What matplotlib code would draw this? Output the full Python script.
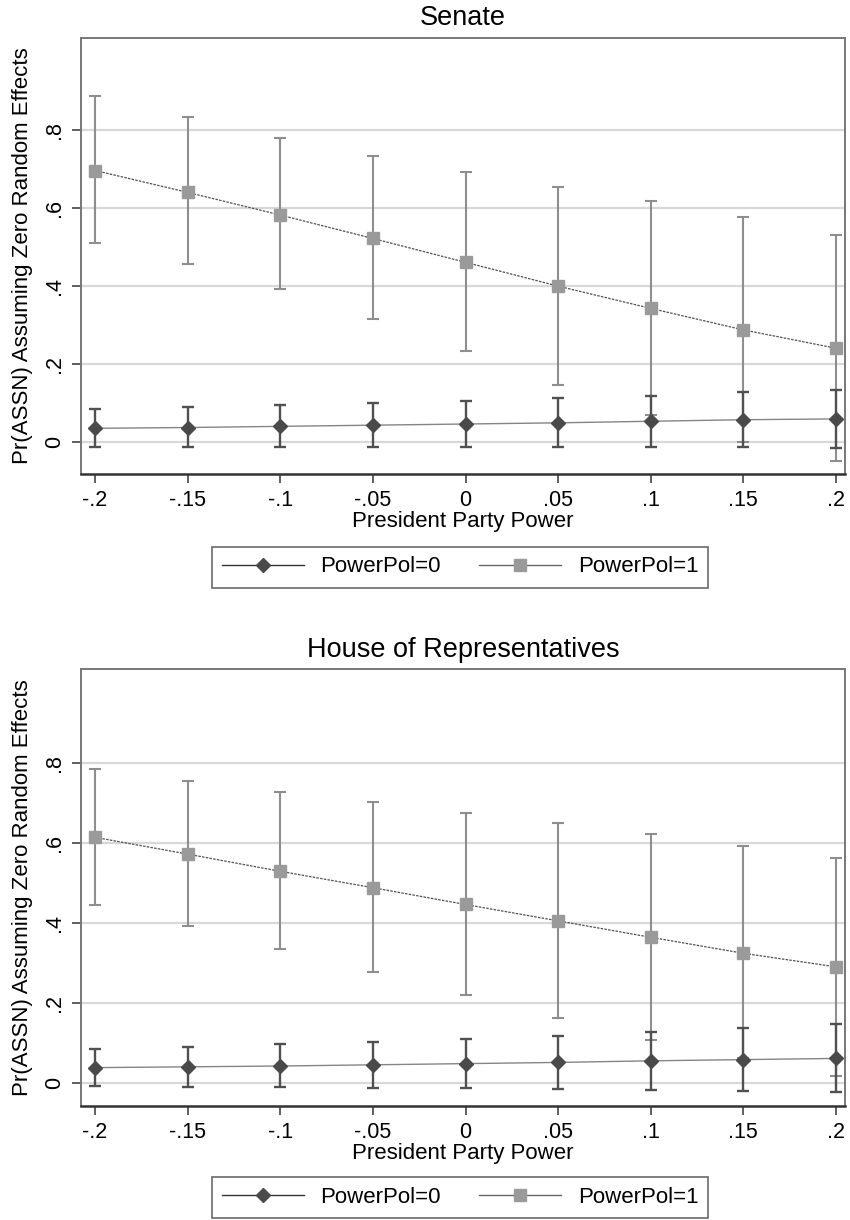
import matplotlib
matplotlib.use('Agg')
import matplotlib.pyplot as plt
from matplotlib.lines import Line2D
from matplotlib import font_manager as fm
import numpy as np

# ---------------- data ----------------
x_vals = [-0.2, -0.15, -0.1, -0.05, 0.0, 0.05, 0.1, 0.15, 0.2]
x_ticklabels = ['-.2', '-.15', '-.1', '-.05', '0', '.05', '.1', '.15', '.2']
y_ticks = [0, 0.2, 0.4, 0.6, 0.8]
y_ticklabels = ['0', '.2', '.4', '.6', '.8']

senate_p0 = [0.036, 0.038, 0.041, 0.044, 0.047, 0.050, 0.054, 0.058, 0.060]
senate_p0_lo = [-0.013, -0.013, -0.013, -0.013, -0.013, -0.013, -0.013, -0.013, -0.014]
senate_p0_hi = [0.086, 0.091, 0.096, 0.102, 0.107, 0.113, 0.119, 0.128, 0.134]
senate_p1 = [0.696, 0.640, 0.582, 0.522, 0.461, 0.400, 0.343, 0.288, 0.241]
senate_p1_lo = [0.510, 0.456, 0.393, 0.317, 0.233, 0.147, 0.070, 0.001, -0.047]
senate_p1_hi = [0.887, 0.832, 0.779, 0.732, 0.692, 0.655, 0.617, 0.576, 0.532]

house_p0 = [0.038, 0.040, 0.042, 0.045, 0.048, 0.051, 0.055, 0.058, 0.061]
house_p0_lo = [-0.009, -0.010, -0.011, -0.012, -0.014, -0.016, -0.018, -0.020, -0.023]
house_p0_hi = [0.084, 0.089, 0.096, 0.102, 0.109, 0.117, 0.127, 0.136, 0.147]
house_p1 = [0.614, 0.572, 0.529, 0.488, 0.446, 0.405, 0.364, 0.324, 0.290]
house_p1_lo = [0.444, 0.392, 0.335, 0.278, 0.219, 0.161, 0.108, 0.062, 0.018]
house_p1_hi = [0.785, 0.756, 0.728, 0.702, 0.676, 0.649, 0.622, 0.593, 0.563]

titles = ['Senate', 'House of Representatives']
xlabel = 'President Party Power'
ylabel = 'Pr(ASSN) Assuming Zero Random Effects'
legend_labels = ['PowerPol=0', 'PowerPol=1']

# ---------------- style ----------------
names = {f.name for f in fm.fontManager.ttflist}
base_font = 'Liberation Sans' if 'Liberation Sans' in names else 'DejaVu Sans'
if 'Liberation Sans Narrow' in names:
    title_font, title_size = 'Liberation Sans Narrow', 22
else:
    title_font, title_size = base_font, 19.5
plt.rcParams['font.family'] = [base_font, 'DejaVu Sans']

C0 = '#4a4a4a'      # PowerPol=0 (dark)
C0_ci = '#505050'
C0_line = '#858585'
C1 = '#9a9a9a'      # PowerPol=1 (light)
C1_ci = '#8e8e8e'
C1_line = '#505050'
GRID = '#d8d8d8'

fig = plt.figure(figsize=(8.5, 12.2), dpi=100)

W, H = 850.0, 1220.0
panels = [
    dict(box=(81, 37.7, 845, 474), ylim=(-0.081, 1.036),
         title_y=18, legend_y=567,
         p0=(senate_p0, senate_p0_lo, senate_p0_hi),
         p1=(senate_p1, senate_p1_lo, senate_p1_hi)),
    dict(box=(81, 669, 845, 1106), ylim=(-0.058, 1.035),
         title_y=650, legend_y=1197.5,
         p0=(house_p0, house_p0_lo, house_p0_hi),
         p1=(house_p1, house_p1_lo, house_p1_hi)),
]

for i, pnl in enumerate(panels):
    l, t, r, b = pnl['box']
    ax = fig.add_axes([l / W, 1 - b / H, (r - l) / W, (b - t) / H])
    ax.set_xlim(-0.2076, 0.2049)
    ax.set_ylim(*pnl['ylim'])

    for yv in y_ticks:
        ax.axhline(yv, color=GRID, lw=1.6, zorder=0)

    # PowerPol=1
    m1, lo1, hi1 = [np.array(a) for a in pnl['p1']]
    ax.errorbar(x_vals, m1, yerr=[m1 - lo1, hi1 - m1], fmt='none',
                ecolor=C1_ci, elinewidth=1.5, capsize=4, capthick=1.5, zorder=2)
    ax.plot(x_vals, m1, color=C1_line, lw=0.9, linestyle=(0, (2, 1)), zorder=3)
    ax.plot(x_vals, m1, linestyle='none', marker='s', markersize=8.7,
            color=C1, markeredgecolor=C1, zorder=4)

    # PowerPol=0
    m0, lo0, hi0 = [np.array(a) for a in pnl['p0']]
    ax.errorbar(x_vals, m0, yerr=[m0 - lo0, hi0 - m0], fmt='none',
                ecolor=C0_ci, elinewidth=1.7, capsize=4, capthick=1.7, zorder=5)
    ax.plot(x_vals, m0, color=C0_line, lw=1.0, zorder=6)
    ax.plot(x_vals, m0, linestyle='none', marker='D', markersize=7.4,
            color=C0, markeredgecolor=C0, zorder=7)

    ax.set_xticks(x_vals)
    ax.set_xticklabels(x_ticklabels, fontsize=15.5)
    ax.set_yticks(y_ticks)
    ax.set_yticklabels(y_ticklabels, fontsize=15.5, rotation=90, va='center')
    ax.tick_params(axis='both', length=6.5, width=1.2, color='#444')
    ax.tick_params(axis='x', pad=5)
    ax.tick_params(axis='y', pad=5)
    ax.set_xlabel(xlabel, fontsize=16, labelpad=0)
    ax.set_ylabel(ylabel, fontsize=16, labelpad=8)

    for side in ['top', 'right', 'left']:
        ax.spines[side].set_color('#777777')
        ax.spines[side].set_linewidth(1.4)
    ax.spines['bottom'].set_color('#333333')
    ax.spines['bottom'].set_linewidth(1.8)

    fig.text(463 / W, 1 - pnl['title_y'] / H, titles[i], ha='center', va='center',
             fontsize=title_size, family=[title_font, base_font])

    handles = [
        Line2D([], [], color='#333333', lw=1.0, marker='D', markersize=7.4,
               markerfacecolor=C0, markeredgecolor=C0),
        Line2D([], [], color='#666666', lw=1.0, marker='s', markersize=8.7,
               markerfacecolor=C1, markeredgecolor=C1),
    ]
    leg = fig.legend(handles, legend_labels, loc='center',
                     bbox_to_anchor=(460 / W, 1 - pnl['legend_y'] / H),
                     ncol=2, fontsize=16, frameon=True, fancybox=False,
                     handlelength=3.7, handletextpad=0.75, columnspacing=1.7,
                     borderpad=0.45, borderaxespad=0)
    leg.get_frame().set_edgecolor('#444444')
    leg.get_frame().set_linewidth(1.2)

fig.savefig('out.png', dpi=100, facecolor='white')
